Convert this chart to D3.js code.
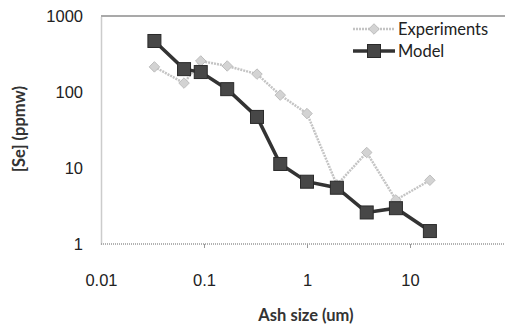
<!DOCTYPE html>
<html>
<head>
<meta charset="utf-8">
<script src="https://cdn.jsdelivr.net/npm/d3@7"></script>
<style>
  body { margin: 0; background: #fff; }
  svg { font-family: Lato, "Open Sans", sans-serif; }
</style>
</head>
<body>
<svg id="chart" width="507" height="327"></svg>
<script>
// data begin ----------------------------------
const ashSize = [0.033, 0.064, 0.093, 0.168, 0.327, 0.55, 1.0, 1.95, 3.8, 7.3, 15.6];
const experiments = [214, 131, 256, 220, 172, 91, 52, 6, 16, 3.8, 6.9];
const model = [469, 200, 183, 109, 47, 11.3, 6.6, 5.5, 2.6, 2.96, 1.48];
const xTicks = [0.01, 0.1, 1, 10];
const yTicks = [1, 10, 100, 1000];
// data end ------------------------------------

const margin = { top: 16, right: 0, bottom: 83, left: 101 };
const svg = d3.select('#chart');
const W = 507, H = 327;
const height = H - margin.top - margin.bottom;
const fs = 16.5;

const x = d3.scaleLog().domain([0.01, 100]).range([margin.left, margin.left + 4 * 103]);
const y = d3.scaleLog().domain([1, 1000]).range([margin.top + height, margin.top]);

// frame
svg.append('line').attr('x1', x(0.01)).attr('x2', W - 2).attr('y1', y(1000)).attr('y2', y(1000))
  .attr('stroke', '#555').attr('stroke-width', 1.2);

const yAxis = svg.append('g').attr('transform', 'translate(' + x(0.01) + ',0)')
  .call(d3.axisLeft(y).tickValues(yTicks).tickFormat(d3.format('d')).tickSize(0).tickPadding(18));
yAxis.select('.domain').attr('stroke', '#999').attr('stroke-width', 1.5).attr('stroke-dasharray', '1,1');
yAxis.selectAll('text').attr('font-size', fs).attr('fill', '#222');

const xAxis = svg.append('g').attr('transform', 'translate(0,' + y(1) + ')')
  .call(d3.axisBottom(x).tickValues(xTicks).tickFormat(d => String(d)).tickSize(4).tickPadding(26));
xAxis.select('.domain').attr('d', 'M' + x(0.01) + ',0H' + (W - 2))
  .attr('stroke', '#999').attr('stroke-width', 1.5).attr('stroke-dasharray', '1,1');
xAxis.selectAll('.tick line').attr('stroke', '#999');
xAxis.selectAll('.tick').filter(d => d === 0.01).select('line').remove();
xAxis.selectAll('text').attr('font-size', fs).attr('fill', '#222');

svg.append('text').attr('transform', 'translate(25,' + 129 + ') rotate(-90)')
  .attr('text-anchor', 'middle').attr('font-size', fs).attr('font-weight', 'bold').attr('fill', '#333')
  .text('[Se] (ppmw)');
svg.append('text').attr('x', 306).attr('y', 321).attr('text-anchor', 'middle')
  .attr('font-size', fs).attr('font-weight', 'bold').attr('fill', '#333').text('Ash size (um)');

const line = d3.line().x(d => x(d[0])).y(d => y(d[1]));
const expData = ashSize.map((s, i) => [s, experiments[i]]);
const modData = ashSize.map((s, i) => [s, model[i]]);

// experiments
svg.append('path').datum(expData).attr('d', line).attr('fill', 'none')
  .attr('stroke', '#c4c4c4').attr('stroke-width', 2.5).attr('stroke-dasharray', '2,1');
const diamond = d3.symbol().type(d3.symbolDiamond2).size(70);
svg.selectAll('path.exp').data(expData).join('path').attr('class', 'exp')
  .attr('transform', d => 'translate(' + x(d[0]) + ',' + y(d[1]) + ')')
  .attr('d', diamond).attr('fill', '#d3d3d3').attr('stroke', '#bdbdbd').attr('stroke-width', 1);

// model
svg.append('path').datum(modData).attr('d', line).attr('fill', 'none')
  .attr('stroke', '#333').attr('stroke-width', 3.5);
svg.selectAll('rect.mod').data(modData).join('rect').attr('class', 'mod')
  .attr('x', d => x(d[0]) - 6.5).attr('y', d => y(d[1]) - 6.5).attr('width', 13).attr('height', 13)
  .attr('fill', '#474747').attr('stroke', '#2a2a2a').attr('stroke-width', 1);

// legend
const lg = svg.append('g').attr('transform', 'translate(353,0)');
lg.append('line').attr('x1', 0).attr('x2', 42).attr('y1', 29).attr('y2', 29)
  .attr('stroke', '#c4c4c4').attr('stroke-width', 2.5).attr('stroke-dasharray', '2,1');
lg.append('path').attr('transform', 'translate(21,29)').attr('d', diamond)
  .attr('fill', '#d3d3d3').attr('stroke', '#bdbdbd');
lg.append('line').attr('x1', 0).attr('x2', 42).attr('y1', 51).attr('y2', 51)
  .attr('stroke', '#333').attr('stroke-width', 3.5);
lg.append('rect').attr('x', 14.5).attr('y', 44.5).attr('width', 13).attr('height', 13)
  .attr('fill', '#474747').attr('stroke', '#2a2a2a');
lg.append('text').attr('x', 45).attr('y', 35).attr('font-size', fs).attr('fill', '#222').text('Experiments');
lg.append('text').attr('x', 45).attr('y', 57).attr('font-size', fs).attr('fill', '#222').text('Model');
</script>
</body>
</html>
